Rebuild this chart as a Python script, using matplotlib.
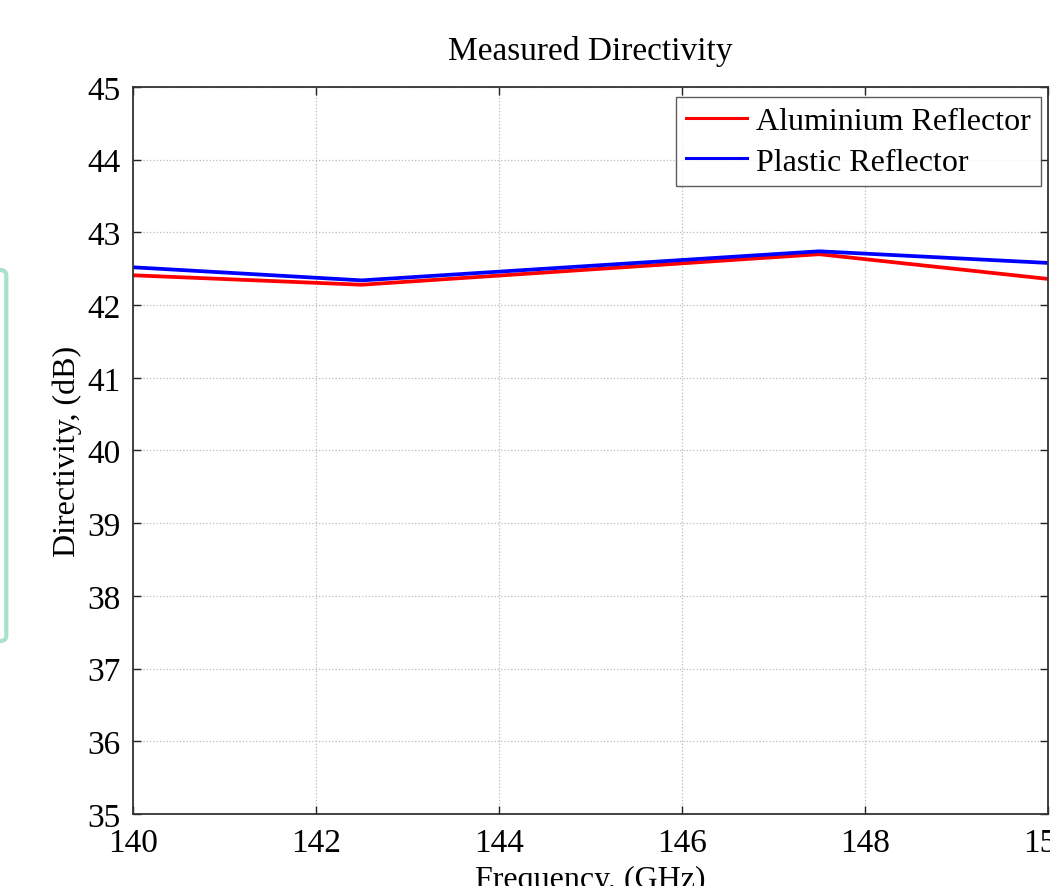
import matplotlib
matplotlib.use("Agg")
import matplotlib.pyplot as plt
from matplotlib.patches import FancyBboxPatch

freq = [140.0, 142.5, 147.5, 150.0]
aluminium = [42.41, 42.28, 42.70, 42.36]
plastic = [42.52, 42.34, 42.74, 42.58]
xticks = [140, 142, 144, 146, 148, 150]
yticks = [35, 36, 37, 38, 39, 40, 41, 42, 43, 44, 45]

plt.rcParams['font.family'] = ['Liberation Serif', 'DejaVu Serif']

fig = plt.figure(figsize=(10.5, 8.87), dpi=100)
ax = fig.add_axes([0.1267, 0.0812, 0.8713, 0.8196])

ax.plot(freq, aluminium, color='#ff0000', lw=2.7, label='Aluminium Reflector')
ax.plot(freq, plastic, color='#0000ff', lw=2.7, label='Plastic Reflector')

ax.set_xlim(140, 150)
ax.set_ylim(35, 45)
ax.set_xticks(xticks)
ax.set_yticks(yticks)
ax.tick_params(direction='in', length=6, width=1, labelsize=24, top=True, right=True,
               colors='#222222', labelcolor='black')
ax.tick_params(axis='x', pad=10)
ax.tick_params(axis='y', pad=9)
ax.grid(True, linestyle=':', color='#bbbbbb', lw=0.9)
for s in ax.spines.values():
    s.set_linewidth(1.3)
    s.set_color('#333333')

ax.set_title('Measured Directivity', fontsize=24, pad=20)
ax.set_xlabel('Frequency, (GHz)', fontsize=23, labelpad=5)
ax.set_ylabel('Directivity, (dB)', fontsize=23, labelpad=4)

leg = ax.legend(loc='upper right', bbox_to_anchor=(0.992, 0.986), fontsize=23,
                frameon=True, fancybox=False, edgecolor='#333333', handlelength=1.9,
                borderpad=0.3, labelspacing=0.35, handletextpad=0.3, borderaxespad=0)
leg.get_frame().set_linewidth(1.0)
for ln in leg.get_lines():
    ln.set_linewidth(2.2)

box = FancyBboxPatch((-0.02, 1 - 642/887), 0.026, (642 - 271)/887,
                     boxstyle='round,pad=0,rounding_size=0.006',
                     transform=fig.transFigure, facecolor='#ffffff',
                     edgecolor='#a8e2c9', lw=3, zorder=0)
fig.patches.append(box)

fig.savefig('out.png', dpi=100)
